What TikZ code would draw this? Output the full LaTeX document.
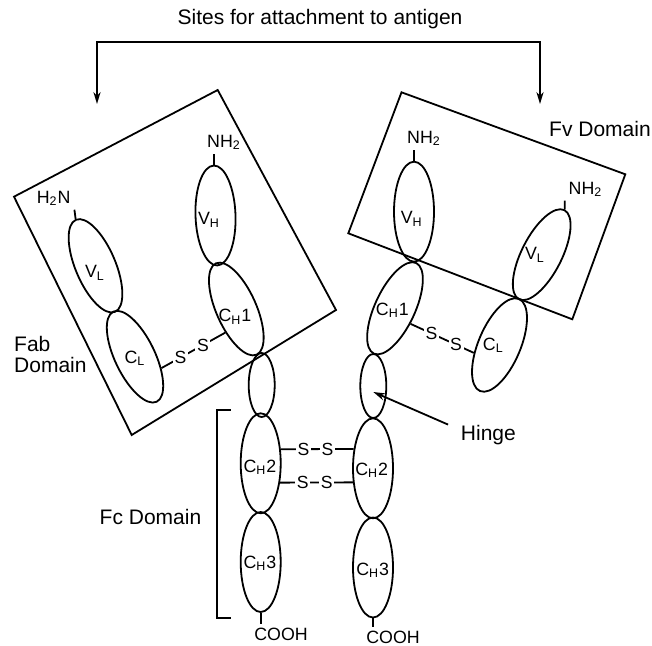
\documentclass[tikz,border=0pt]{standalone}
\usepackage{fontspec}
\setmainfont{Liberation Sans}
\usetikzlibrary{shapes.geometric,arrows.meta}

\begin{document}
\begin{tikzpicture}[
    x=0.5pt, y=-0.5pt,
    >={Stealth[length=6pt,width=3.6pt]},
    line width=0.9pt,
    igdomain/.style={ellipse, draw, minimum width=20pt, minimum height=50pt, inner sep=0pt},
    hingeell/.style={ellipse, draw, minimum width=13pt, minimum height=32pt, inner sep=0pt},
    biglbl/.style={font=\fontsize{10.5}{10.5}\selectfont, inner sep=0pt},
    lbl/.style={font=\fontsize{8.9}{9}\selectfont, inner sep=1.5pt},
    sulfur/.style={font=\fontsize{8.8}{9}\selectfont, fill=white, inner sep=0.8pt}
]
  \useasboundingbox (0,0) rectangle (652,646);

  % boxes
  \draw (14,196.7) -- (217.7,90) -- (336,310) -- (131.7,435) -- cycle;
  \draw (401.5,92.3) -- (625.3,174.3) -- (572.3,319.3) -- (348.3,233.3) -- cycle;
  \draw (230.7,410) -- (217.3,410) -- (217.3,618.3) -- (230.7,618.3);

  % left arm
  \node[igdomain, rotate=2] (lVH) at (215.5,215.5) {};
  \node[igdomain, rotate=24] (lCH1) at (236.3,309) {};
  \node[igdomain, rotate=23] (lVL) at (95.5,265.8) {};
  \node[igdomain, rotate=25.7] (lCL) at (135,356.7) {};
  \node[hingeell] (lHinge) at (261.7,385) {};
  \node[igdomain] (lCH2) at (260.7,463.3) {};
  \node[igdomain] (lCH3) at (260.7,562) {};

  % right arm
  \node[igdomain] (rVH) at (414,211.7) {};
  \node[igdomain, rotate=-25] (rCH1) at (395,308.3) {};
  \node[igdomain, rotate=-27] (rVL) at (541.7,254.7) {};
  \node[igdomain, rotate=-23, minimum width=21pt] (rCL) at (499.5,345) {};
  \node[hingeell] (rHinge) at (373.3,386) {};
  \node[igdomain] (rCH2) at (373,468.3) {};
  \node[igdomain] (rCH3) at (373,567.5) {};

  % domain labels
  \node[lbl] (lVHt) at (209,220) {V\textsubscript{H}};
  \node[lbl] (lCH1t) at (235,316.7) {C\textsubscript{H}1};
  \node[lbl] (lVLt) at (95,273) {V\textsubscript{L}};
  \node[lbl] (lCLt) at (135,358.3) {C\textsubscript{L}};
  \node[lbl] (lCH2t) at (260,467.3) {C\textsubscript{H}2};
  \node[lbl] (lCH3t) at (260,563.3) {C\textsubscript{H}3};
  \node[lbl] (rVHt) at (411.7,219) {V\textsubscript{H}};
  \node[lbl] (rCH1t) at (392.3,310) {C\textsubscript{H}1};
  \node[lbl] (rVLt) at (535,255) {V\textsubscript{L}};
  \node[lbl] (rCLt) at (493.3,345) {C\textsubscript{L}};
  \node[lbl] (rCH2t) at (371.7,470) {C\textsubscript{H}2};
  \node[lbl] (rCH3t) at (372.7,570) {C\textsubscript{H}3};

  % chain ends
  \node[lbl, anchor=base] (lNH2) at (224,147.5) {NH\textsubscript{2}};
  \node[lbl, anchor=base] (lH2N) at (53.7,203.3) {H\textsubscript{2}N};
  \node[lbl, anchor=base] (rNH2) at (424,143.3) {NH\textsubscript{2}};
  \node[lbl, anchor=base] (rNH2b) at (585.5,194.3) {NH\textsubscript{2}};
  \node[lbl, anchor=base] (lCOOH) at (281,640.5) {COOH};
  \node[lbl, anchor=base] (rCOOH) at (393,643.5) {COOH};
  \draw (lVH.north) -- (lVH.north |- lNH2.south);
  \draw (lVL.north) -- (lH2N.south east);
  \draw (rVH.north) -- (rVH.north |- rNH2.south);
  \draw (rVL.north) -- (rNH2b.south west);
  \draw (lCH3.south) -- (lCH3.south |- lCOOH.north);
  \draw (rCH3.south) -- (rCH3.south |- rCOOH.north);

  % disulfide bridges
  \draw (lCL.311) -- node[sulfur, pos=.3] (lS1) {S} node[sulfur, pos=.65] (lS2) {S} (lCH1.221);
  \draw (rCH1.340) -- node[sulfur, pos=.33] (rS1) {S} node[sulfur, pos=.72] (rS2) {S} (rCL.220);
  \draw (lCH2.35) -- node[sulfur, pos=.31] (uS1) {S} node[sulfur, pos=.64] (uS2) {S} (rCH2.135);
  \draw (lCH2.-45) -- node[sulfur, pos=.31] (dS1) {S} node[sulfur, pos=.64] (dS2) {S} (rCH2.215);

  % region labels
  \node[biglbl, anchor=base] (title) at (320,25) {Sites for attachment to antigen};
  \node[biglbl, anchor=base] (fvlbl) at (600,136.8) {Fv Domain};
  \node[biglbl, anchor=north west, align=left] (fablbl) at (13.3,335.5) {Fab\\Domain};
  \node[biglbl, anchor=base] (fclbl) at (150.5,524.5) {Fc Domain};
  \node[biglbl, anchor=base] (hingelbl) at (488.4,440.7) {Hinge};

  % arrows
  \coordinate (lsite) at (97,104);
  \coordinate (rsite) at (540,104);
  \coordinate (bar) at (320,42);
  \draw[<->] (lsite) |- (bar) -| (rsite);
  \draw[->] ([xshift=-6pt]hingelbl.north west) -- ([yshift=-3pt]rHinge.center);
\end{tikzpicture}
\end{document}
